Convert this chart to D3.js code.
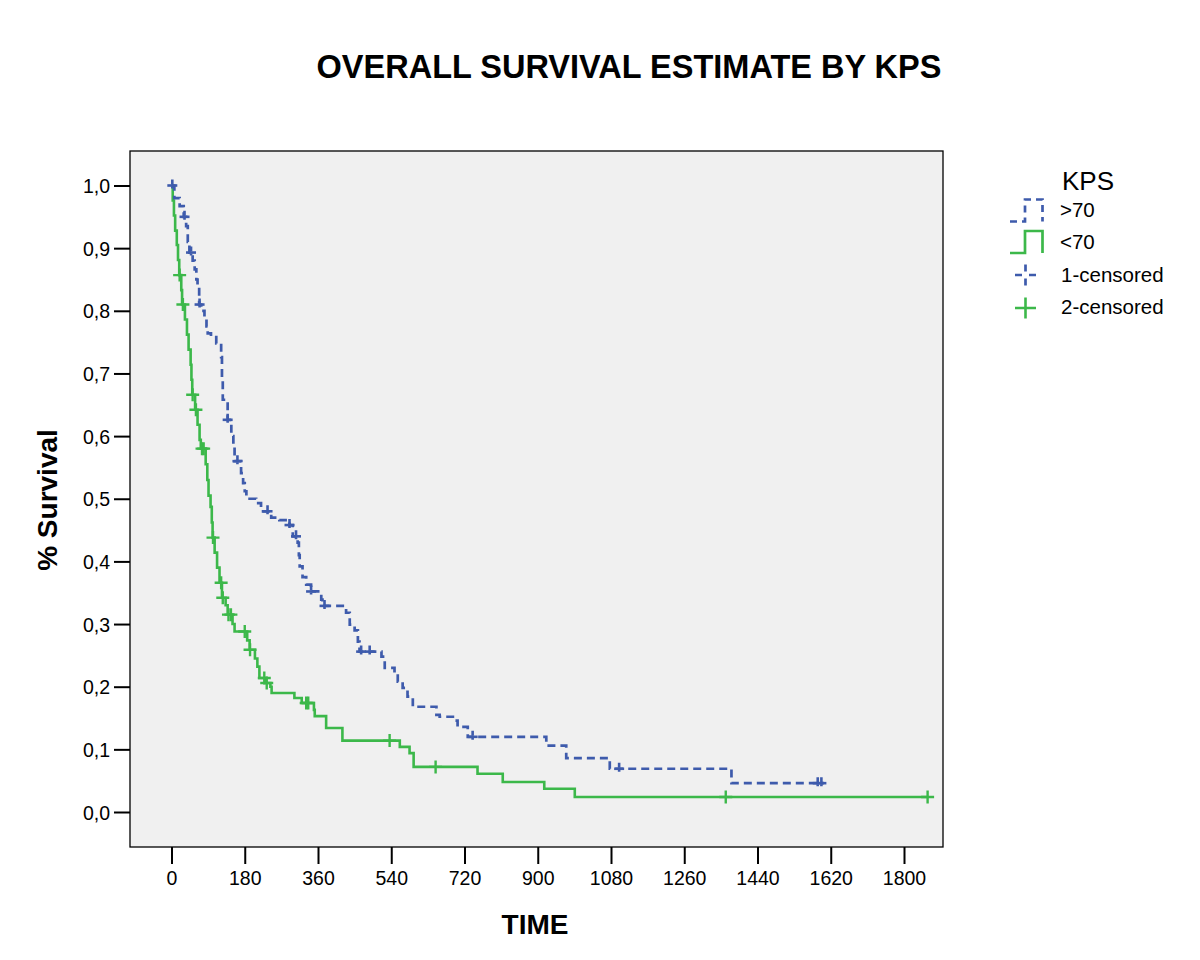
<!DOCTYPE html>
<html>
<head>
<meta charset="utf-8">
<script src="https://cdn.jsdelivr.net/npm/d3@7"></script>
<style>
  html, body { margin: 0; padding: 0; background: #ffffff; }
  svg { display: block; }
  text { font-family: Arial, "Liberation Sans", Helvetica, sans-serif; fill: #000; }
</style>
</head>
<body>
<svg id="chart" width="1200" height="960"></svg>
<script>
// ---------- DATA ----------
const chartTitle = "OVERALL SURVIVAL ESTIMATE BY KPS";
const xLabel = "TIME";
const yLabel = "% Survival";
const legendTitle = "KPS";
const seriesNames = [">70", "<70"];
const censorNames = ["1-censored", "2-censored"];

const xTicks = [0, 180, 360, 540, 720, 900, 1080, 1260, 1440, 1620, 1800];
const yTicks = [0.0, 0.1, 0.2, 0.3, 0.4, 0.5, 0.6, 0.7, 0.8, 0.9, 1.0];

// KPS >70 (blue, dashed): step times and survival after each step
const blueTimes = [0, 7, 20, 30, 36, 40, 44, 52, 57, 61, 64, 68, 73, 81, 86, 89, 97, 110, 122, 124, 126, 138, 147, 152, 155, 171, 176, 180, 184, 208, 220, 245, 265, 290, 298, 310, 313, 315, 322, 331, 343, 368, 371, 429, 438, 450, 458, 462, 516, 524, 548, 556, 568, 580, 593, 651, 659, 695, 703, 728, 921, 970, 1077, 1376];
const blueSurv  = [1.0, 0.98, 0.967, 0.95, 0.935, 0.91, 0.893, 0.88, 0.866, 0.85, 0.838, 0.81, 0.80, 0.79, 0.775, 0.764, 0.758, 0.748, 0.726, 0.69, 0.658, 0.626, 0.60, 0.584, 0.56, 0.541, 0.525, 0.512, 0.50, 0.493, 0.48, 0.47, 0.466, 0.458, 0.44, 0.43, 0.41, 0.392, 0.375, 0.363, 0.352, 0.339, 0.329, 0.318, 0.299, 0.29, 0.272, 0.256, 0.248, 0.23, 0.222, 0.208, 0.198, 0.184, 0.168, 0.155, 0.152, 0.146, 0.136, 0.12, 0.106, 0.086, 0.069, 0.046];
const blueEnd = 1603;
const blueCensor = [2, 32, 48, 69, 138, 162, 236, 290, 306, 343, 376, 466, 487, 740, 1100, 1588, 1597];

// KPS <70 (green, solid)
const greenTimes = [0, 3, 6, 9, 13, 16, 19, 24, 26, 33, 38, 42, 47, 49, 51, 58, 64, 69, 72, 84, 88, 91, 96, 99, 101, 106, 112, 118, 124, 133, 138, 150, 155, 186, 192, 205, 211, 216, 232, 243, 246, 302, 320, 350, 352, 380, 420, 561, 585, 595, 752, 814, 916, 991];
const greenSurv  = [1.0, 0.976, 0.952, 0.928, 0.905, 0.881, 0.857, 0.833, 0.81, 0.786, 0.762, 0.738, 0.714, 0.69, 0.666, 0.642, 0.618, 0.594, 0.58, 0.555, 0.53, 0.505, 0.487, 0.462, 0.438, 0.414, 0.39, 0.366, 0.342, 0.33, 0.315, 0.30, 0.288, 0.274, 0.259, 0.245, 0.232, 0.214, 0.206, 0.20, 0.19, 0.182, 0.174, 0.163, 0.153, 0.134, 0.114, 0.104, 0.094, 0.072, 0.061, 0.048, 0.037, 0.024];
const greenEnd = 1860;
const greenCensor = [20, 28, 52, 60, 75, 79, 102, 122, 126, 140, 146, 180, 193, 228, 234, 331, 336, 536, 649, 1362, 1858];

// ---------- STYLE ----------
const blueColor = "#3e5bac";
const greenColor = "#3cb84a";
const plotBg = "#f0f0f0";

// ---------- LAYOUT ----------
const svg = d3.select("#chart");
const box = { left: 130, top: 151, right: 943, bottom: 847 };

const x = d3.scaleLinear().domain([0, 1800]).range([171.5, 904]);
const y = d3.scaleLinear().domain([0, 1]).range([812, 185.5]);

// Title
svg.append("text")
  .attr("x", 629).attr("y", 78)
  .attr("text-anchor", "middle")
  .style("font-size", "32.5px").style("font-weight", "bold")
  .text(chartTitle);

// Plot area
svg.append("rect")
  .attr("x", box.left).attr("y", box.top)
  .attr("width", box.right - box.left).attr("height", box.bottom - box.top)
  .attr("fill", plotBg).attr("stroke", "#000").attr("stroke-width", 1.3);

// Y axis
const yAxis = d3.axisLeft(y).tickValues(yTicks).tickSize(16).tickPadding(4)
  .tickFormat(d => d3.format(".1f")(d).replace(".", ","));
const gy = svg.append("g").attr("transform", `translate(${box.left},0)`).call(yAxis);
gy.select(".domain").remove();
gy.selectAll(".tick line").attr("stroke", "#000").attr("stroke-width", 2);
gy.selectAll(".tick text").style("font-size", "19.5px").attr("dy", "0.36em");

// X axis
const xAxis = d3.axisBottom(x).tickValues(xTicks).tickSize(17).tickPadding(7)
  .tickFormat(d3.format("d"));
const gx = svg.append("g").attr("transform", `translate(0,${box.bottom})`).call(xAxis);
gx.select(".domain").remove();
gx.selectAll(".tick line").attr("stroke", "#000").attr("stroke-width", 2);
gx.selectAll(".tick text").style("font-size", "19.5px");

// Axis labels
svg.append("text")
  .attr("x", 535).attr("y", 934)
  .attr("text-anchor", "middle")
  .style("font-size", "28px").style("font-weight", "bold")
  .text(xLabel);
svg.append("text")
  .attr("transform", "translate(57,500) rotate(-90)")
  .attr("text-anchor", "middle")
  .style("font-size", "28px").style("font-weight", "bold")
  .text(yLabel);

// ---------- CURVES ----------
function stepPoints(times, surv, end) {
  const pts = times.map((t, i) => [t, surv[i]]);
  pts.push([end, surv[surv.length - 1]]);
  return pts;
}
function survAt(times, surv, t) {
  let s = surv[0];
  for (let i = 0; i < times.length; i++) { if (times[i] <= t) s = surv[i]; }
  return s;
}
const line = d3.line().x(d => x(d[0])).y(d => y(d[1])).curve(d3.curveStepAfter);

const g = svg.append("g");

g.append("path")
  .datum(stepPoints(greenTimes, greenSurv, greenEnd))
  .attr("d", line)
  .attr("fill", "none").attr("stroke", greenColor).attr("stroke-width", 2.6);

g.append("path")
  .datum(stepPoints(blueTimes, blueSurv, blueEnd))
  .attr("d", line)
  .attr("fill", "none").attr("stroke", blueColor).attr("stroke-width", 2.7)
  .attr("stroke-dasharray", "8,5");

function drawCross(sel, cx, cy, color, half, width) {
  sel.append("path")
    .attr("d", `M${cx - half},${cy}H${cx + half}M${cx},${cy - half}V${cy + half}`)
    .attr("fill", "none").attr("stroke", color).attr("stroke-width", width);
}
function drawBrokenCross(sel, cx, cy, color, inner, outer, width) {
  sel.append("path")
    .attr("d", `M${cx - outer},${cy}H${cx - inner}M${cx + inner},${cy}H${cx + outer}` +
               `M${cx},${cy - outer}V${cy - inner}M${cx},${cy + inner}V${cy + outer}`)
    .attr("fill", "none").attr("stroke", color).attr("stroke-width", width);
}

greenCensor.forEach(t => drawCross(g, x(t), y(survAt(greenTimes, greenSurv, t)), greenColor, 6.5, 2.4));
blueCensor.forEach(t => {
  const cx = x(t), cy = y(survAt(blueTimes, blueSurv, t));
  g.append("path")
    .attr("d", `M${cx},${cy - 6}V${cy - 1}M${cx},${cy + 1}V${cy + 3}`)
    .attr("fill", "none").attr("stroke", blueColor).attr("stroke-width", 2.6);
  g.append("path")
    .attr("d", `M${cx - 5},${cy}H${cx + 5}`)
    .attr("fill", "none").attr("stroke", blueColor).attr("stroke-width", 2.6);
});

// ---------- LEGEND ----------
const lg = svg.append("g");
lg.append("text").attr("x", 1062).attr("y", 190)
  .style("font-size", "26px").text(legendTitle);

// >70 icon (dashed step)
lg.append("path")
  .attr("d", "M1010,221.5H1025V199.5H1042.5V221.5")
  .attr("fill", "none").attr("stroke", blueColor).attr("stroke-width", 2.7)
  .attr("stroke-dasharray", "7,5");
lg.append("text").attr("x", 1060).attr("y", 217).style("font-size", "20.5px").text(seriesNames[0]);

// <70 icon (solid step)
lg.append("path")
  .attr("d", "M1010,253H1025V231H1042.5V253")
  .attr("fill", "none").attr("stroke", greenColor).attr("stroke-width", 2.7);
lg.append("text").attr("x", 1060).attr("y", 249).style("font-size", "20.5px").text(seriesNames[1]);

// censored icons
drawBrokenCross(lg, 1025.5, 275, blueColor, 3.5, 10.5, 2.7);
lg.append("text").attr("x", 1061).attr("y", 282).style("font-size", "20.5px").text(censorNames[0]);
drawCross(lg, 1025.5, 308, greenColor, 10.5, 2.6);
lg.append("text").attr("x", 1061).attr("y", 314).style("font-size", "20.5px").text(censorNames[1]);
</script>
</body>
</html>
